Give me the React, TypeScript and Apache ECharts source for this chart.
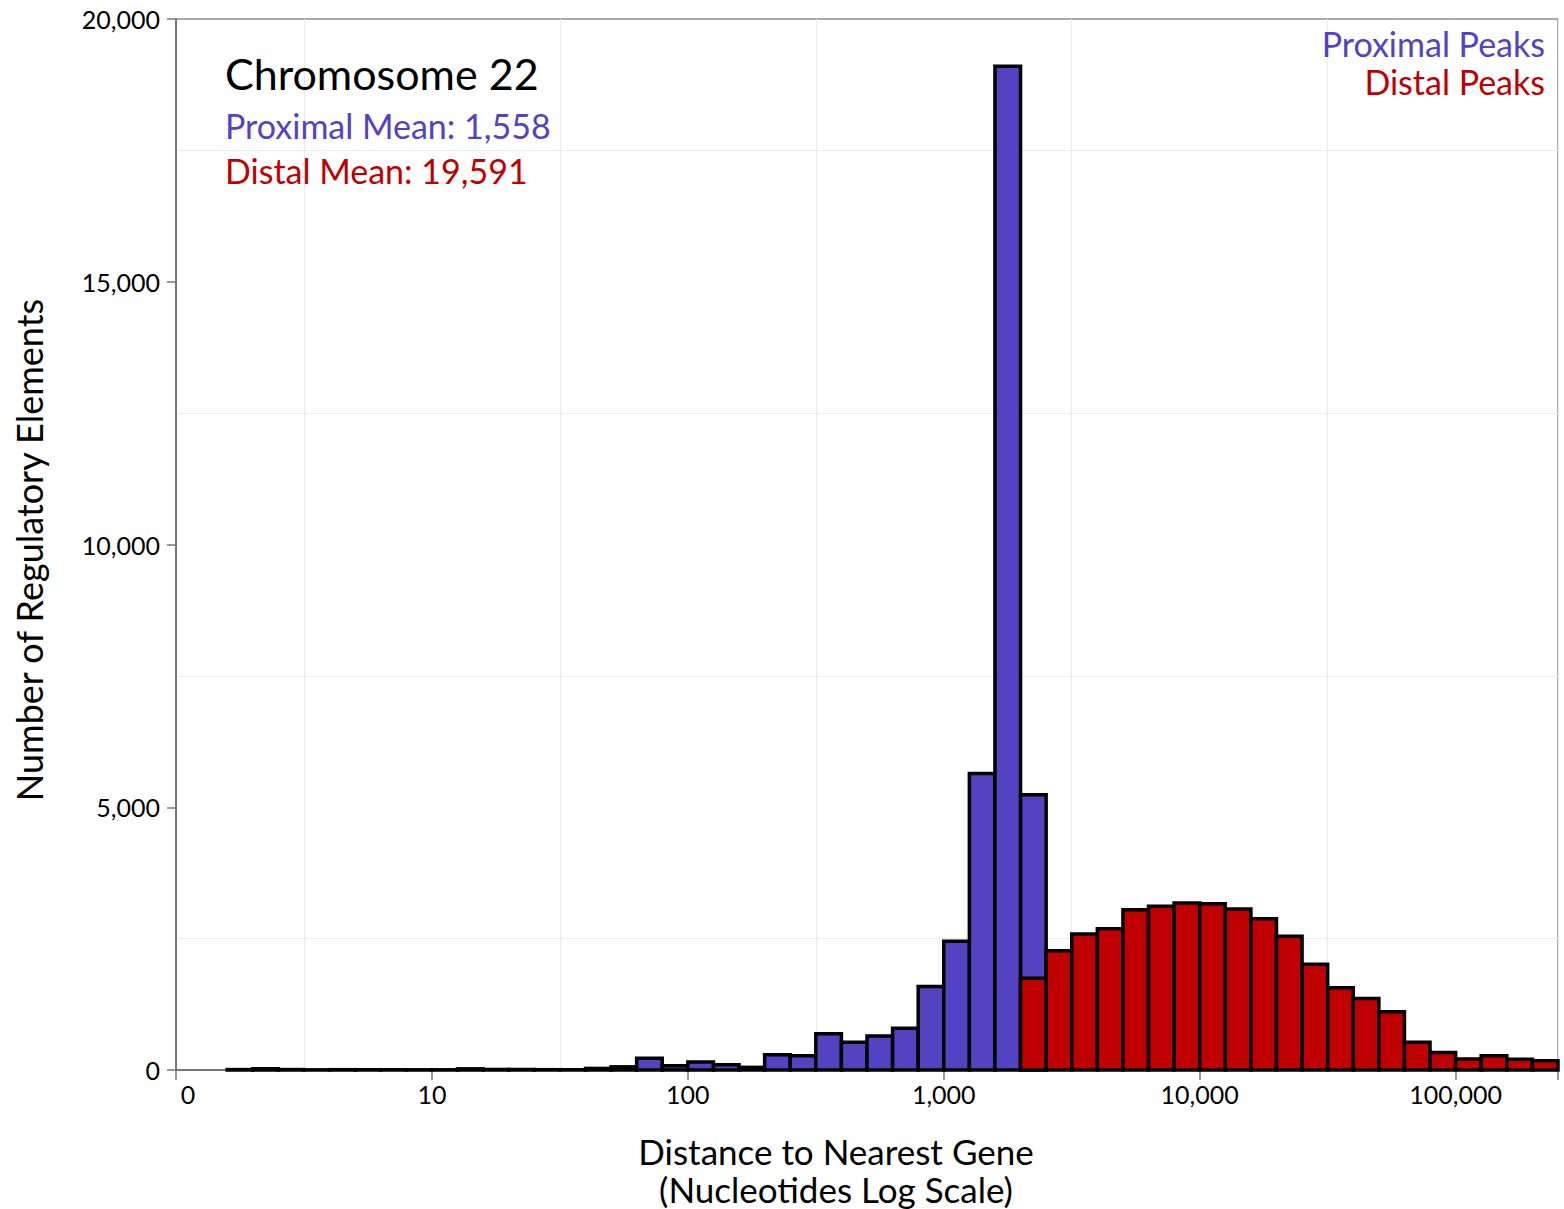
import React, { useEffect, useRef } from "react";
import * as echarts from "echarts";

// Histogram bins on log10(distance); each bin is 0.1 decade wide.
const BIN_WIDTH = 0.1;

const proximalBinStarts = [
  0.2, 0.3, 0.4, 0.5, 0.6, 0.7, 0.8, 0.9, 1.0, 1.1, 1.2, 1.3, 1.4, 1.5, 1.6, 1.7,
  1.8, 1.9, 2.0, 2.1, 2.2, 2.3, 2.4, 2.5, 2.6, 2.7, 2.8, 2.9, 3.0, 3.1, 3.2, 3.3,
];
const proximalCounts = [
  8, 25, 8, 3, 6, 5, 5, 4, 4, 22, 10, 8, 6, 5, 30, 60,
  225, 80, 150, 100, 50, 290, 270, 690, 530, 645, 795, 1590, 2450, 5640, 19100, 5240,
];

const distalBinStarts = [
  3.3, 3.4, 3.5, 3.6, 3.7, 3.8, 3.9, 4.0, 4.1, 4.2, 4.3, 4.4, 4.5, 4.6, 4.7, 4.8,
  4.9, 5.0, 5.1, 5.2, 5.3,
];
const distalCounts = [
  1745, 2270, 2590, 2690, 3050, 3115, 3180, 3165, 3065, 2880, 2545, 2010, 1565, 1360, 1110, 530,
  333, 210, 272, 205, 175,
];

// x tick labels at log10 = 0..5
const xTickValues = [0, 1, 2, 3, 4, 5];
const xTickLabels = ["0", "10", "100", "1,000", "10,000", "100,000"];

const titleText = "Chromosome 22";
const proximalMeanText = "Proximal Mean: 1,558";
const distalMeanText = "Distal Mean: 19,591";
const legendProximal = "Proximal Peaks";
const legendDistal = "Distal Peaks";
const xTitleLines = ["Distance to Nearest Gene", "(Nucleotides Log Scale)"];
const yTitle = "Number of Regulatory Elements";

const BLUE = "#5442c3";
const RED = "#c00000";
const FONT = "Lato";

function makeBars(starts: number[], counts: number[]) {
  return starts.map((s, i) => [s, +(s + BIN_WIDTH).toFixed(2), counts[i]]);
}

function barRenderer(color: string) {
  return (params: any, api: any) => {
    const x0 = api.value(0);
    const x1 = api.value(1);
    const v = api.value(2);
    const p0 = api.coord([x0, v]);
    const p1 = api.coord([x1, 0]);
    return {
      type: "rect",
      shape: { x: p0[0], y: p0[1], width: p1[0] - p0[0], height: p1[1] - p0[1] },
      style: { fill: color, stroke: "#000", lineWidth: 3.5 },
    };
  };
}

function txt(x: number, y: number, text: string, fill: string, size: number, lineHeight: number, align = "left") {
  return {
    type: "text",
    z: 10,
    style: {
      x,
      y,
      text,
      fill,
      fontFamily: FONT,
      fontSize: size,
      lineHeight,
      textAlign: align,
      textVerticalAlign: "middle",
    },
  };
}

export default function App() {
  const ref = useRef<HTMLDivElement>(null);
  useEffect(() => {
    if (!ref.current) return;
    const chart = echarts.init(ref.current, undefined, { renderer: "svg" });
    const labelFor = (v: number) => {
      const idx = xTickValues.indexOf(Math.round(v * 1000) / 1000);
      if (idx < 0) return "";
      if (idx === 0) return "{first|" + xTickLabels[0] + "}";
      return xTickLabels[idx];
    };
    chart.setOption({
      animation: false,
      backgroundColor: "#fff",
      grid: {
        left: 176,
        right: 6,
        top: 19,
        bottom: 139,
        show: true,
        borderColor: "#555",
        borderWidth: 1,
        backgroundColor: "transparent",
      },
      xAxis: [
        {
          type: "value",
          min: 0,
          max: 5.4,
          interval: 1,
          axisLine: { show: true, onZero: false, lineStyle: { color: "#666", width: 1.5 } },
          axisTick: { show: true, length: 10, lineStyle: { color: "#777", width: 1.5 } },
          axisLabel: {
            formatter: labelFor,
            fontFamily: FONT,
            fontSize: 25,
            color: "#000",
            margin: 11,
            rich: {
              first: { fontFamily: FONT, fontSize: 25, color: "#000", padding: [0, 0, 0, 24] },
            },
          },
          splitLine: { show: false },
        },
        {
          type: "value",
          min: 0,
          max: 5.4,
          interval: 0.5,
          position: "bottom",
          axisLine: { show: false },
          axisTick: { show: false },
          axisLabel: { show: false },
          splitLine: {
            show: true,
            lineStyle: { color: ["rgba(0,0,0,0)", "#ebebeb"], width: 1 },
          },
        },
      ],
      yAxis: [
        {
          type: "value",
          min: 0,
          max: 20000,
          interval: 5000,
          axisLine: { show: true, lineStyle: { color: "#666", width: 1.5 } },
          axisTick: { show: true, length: 9, lineStyle: { color: "#777", width: 1.5 } },
          axisLabel: {
            formatter: (v: number) => v.toLocaleString("en-US"),
            fontFamily: FONT,
            fontSize: 25,
            color: "#000",
            margin: 16,
          },
          splitLine: { show: false },
        },
        {
          type: "value",
          min: 0,
          max: 20000,
          interval: 2500,
          axisLine: { show: false },
          axisTick: { show: false },
          axisLabel: { show: false },
          splitLine: {
            show: true,
            lineStyle: { color: ["rgba(0,0,0,0)", "#ebebeb"], width: 1 },
          },
        },
      ],
      series: [
        {
          type: "custom",
          name: legendProximal,
          xAxisIndex: 0,
          yAxisIndex: 0,
          renderItem: barRenderer(BLUE),
          encode: { x: [0, 1], y: 2 },
          data: makeBars(proximalBinStarts, proximalCounts),
          z: 2,
        },
        {
          type: "custom",
          name: legendDistal,
          xAxisIndex: 0,
          yAxisIndex: 0,
          renderItem: barRenderer(RED),
          encode: { x: [0, 1], y: 2 },
          data: makeBars(distalBinStarts, distalCounts),
          z: 3,
        },
      ],
      graphic: [
        txt(225, 73, titleText, "#000", 43, 44),
        txt(225, 125, proximalMeanText, BLUE, 34, 38),
        txt(225, 170, distalMeanText, RED, 34, 38),
        txt(1545, 43, legendProximal, BLUE, 34, 34, "right"),
        txt(1545, 81, legendDistal, RED, 34, 34, "right"),
        txt(836, 1151, xTitleLines[0], "#000", 35, 37, "center"),
        txt(836, 1189, xTitleLines[1], "#000", 35, 36, "center"),
        {
          type: "text",
          z: 10,
          x: 29,
          y: 550,
          rotation: Math.PI / 2,
          style: {
            x: 0,
            y: 0,
            text: yTitle,
            fill: "#000",
            fontFamily: FONT,
            fontSize: 36,
            textAlign: "center",
            textVerticalAlign: "middle",
          },
        },
      ],
    });
    return () => chart.dispose();
  }, []);
  return (
    <div
      ref={ref}
      style={{ position: "absolute", left: 0, top: 0, width: 1564, height: 1209 }}
    />
  );
}
